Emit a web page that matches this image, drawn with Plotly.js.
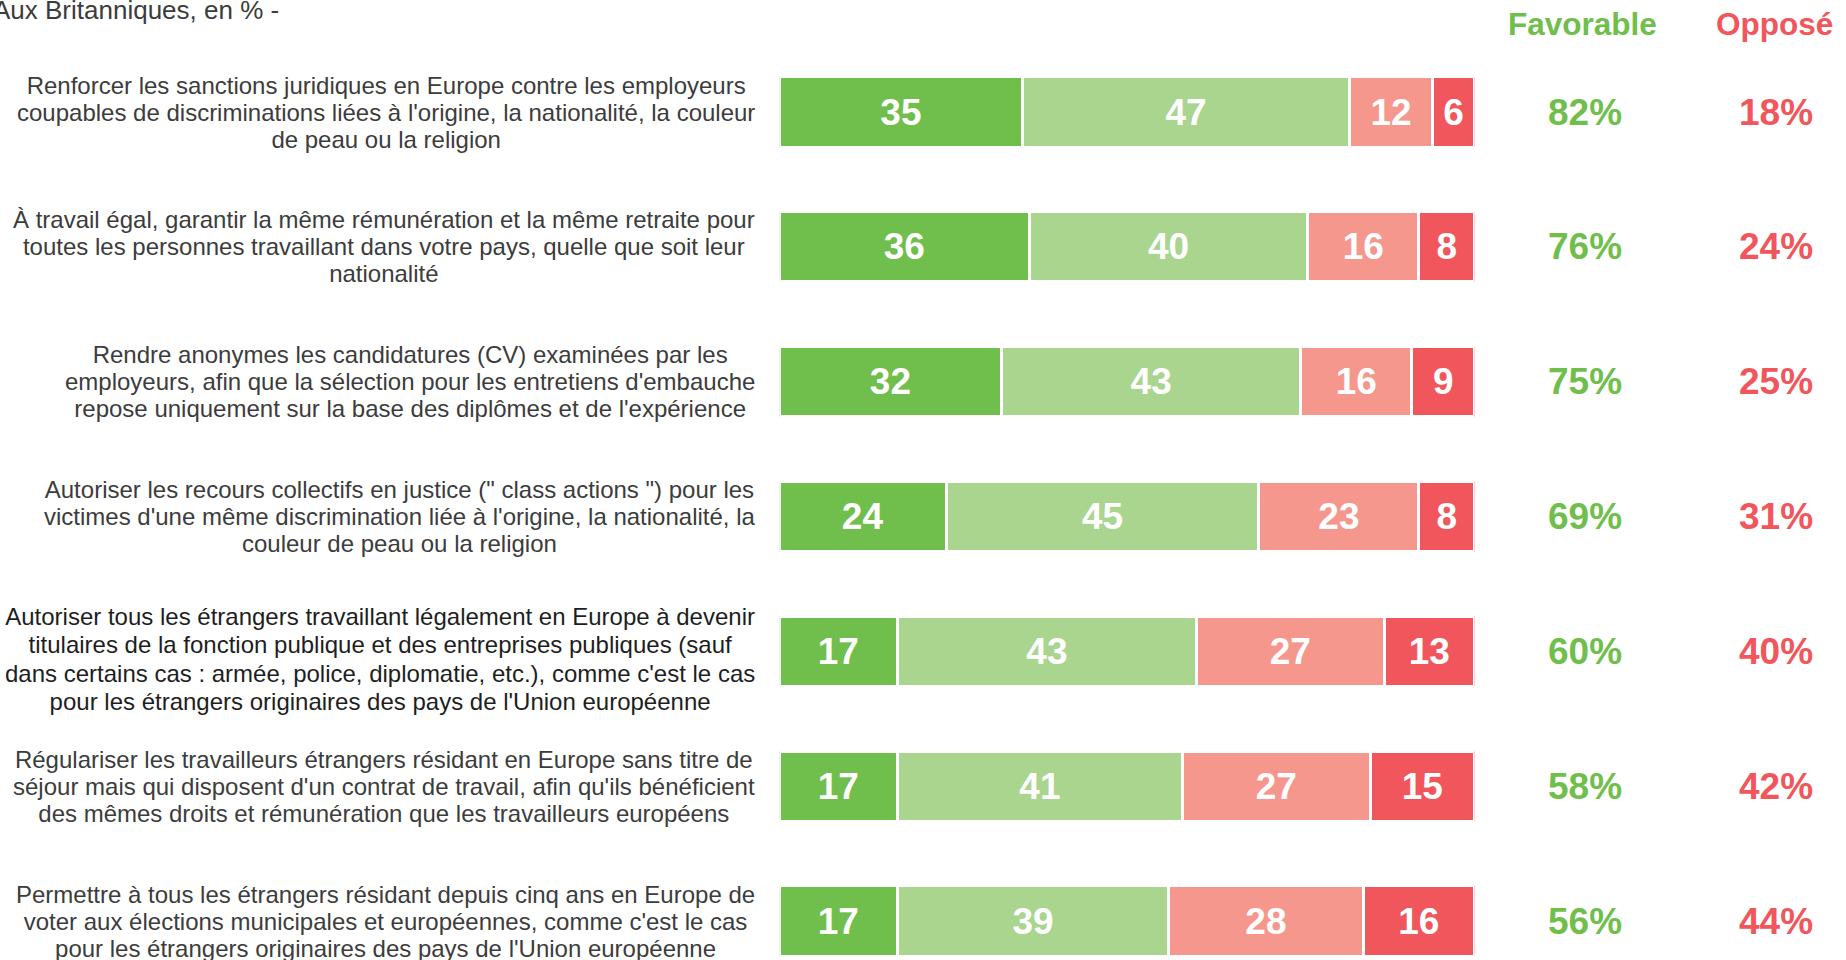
<!DOCTYPE html>
<html>
<head>
<meta charset="utf-8">
<script src="https://cdn.plot.ly/plotly-3.0.1.min.js"></script>
<style>html,body{margin:0;padding:0;background:#fff;}#chart{width:1846px;height:960px;}</style>
</head>
<body>
<div id="chart"></div>
<script>
const questions = [
  "Renforcer les sanctions juridiques en Europe contre les employeurs<br>coupables de discriminations liées à l'origine, la nationalité, la couleur<br>de peau ou la religion",
  "À travail égal, garantir la même rémunération et la même retraite pour<br>toutes les personnes travaillant dans votre pays, quelle que soit leur<br>nationalité",
  "Rendre anonymes les candidatures (CV) examinées par les<br>employeurs, afin que la sélection pour les entretiens d'embauche<br>repose uniquement sur la base des diplômes et de l'expérience",
  "Autoriser les recours collectifs en justice (\" class actions \") pour les<br>victimes d'une même discrimination liée à l'origine, la nationalité, la<br>couleur de peau ou la religion",
  "Autoriser tous les étrangers travaillant légalement en Europe à devenir<br>titulaires de la fonction publique et des entreprises publiques (sauf<br>dans certains cas : armée, police, diplomatie, etc.), comme c'est le cas<br>pour les étrangers originaires des pays de l'Union européenne",
  "Régulariser les travailleurs étrangers résidant en Europe sans titre de<br>séjour mais qui disposent d'un contrat de travail, afin qu'ils bénéficient<br>des mêmes droits et rémunération que les travailleurs européens",
  "Permettre à tous les étrangers résidant depuis cinq ans en Europe de<br>voter aux élections municipales et européennes, comme c'est le cas<br>pour les étrangers originaires des pays de l'Union européenne"
];
const tresFavorable   = [35, 36, 32, 24, 17, 17, 17];
const plutotFavorable = [47, 40, 43, 45, 43, 41, 39];
const plutotOppose    = [12, 16, 16, 23, 27, 27, 28];
const tresOppose      = [6, 8, 9, 8, 13, 15, 16];
const totalFavorable  = [82, 76, 75, 69, 60, 58, 56];
const totalOppose     = [18, 24, 25, 31, 40, 42, 44];
const title = "Aux Britanniques, en % -";
const headerFav = "Favorable";
const headerOpp = "Opposé";

const W = 1846, H = 960;
const FONT = "Liberation Sans, Arial, sans-serif";
const cGreen = "#70BE4B", cLightGreen = "#A9D58F", cSalmon = "#F5978D", cRed = "#F0565B";
const cats = questions.map((q, i) => "q" + i);

function barTrace(vals, color) {
  return {
    type: "bar", orientation: "h", x: vals, y: cats,
    marker: {color: color, line: {color: "#fff", width: 3}},
    width: 0.52,
    text: vals.map(String), textposition: "inside", insidetextanchor: "middle",
    constraintext: "none",
    textfont: {family: FONT, size: 37, color: "#fff", weight: "bold"},
    hoverinfo: "skip", showlegend: false, cliponaxis: false
  };
}
const data = [
  barTrace(tresFavorable, cGreen),
  barTrace(plutotFavorable, cLightGreen),
  barTrace(plutotOppose, cSalmon),
  barTrace(tresOppose, cRed)
];

function bigLines(s, px) {
  return s.split("<br>").map(l => '<span style="font-size:' + px + 'px">' + l + '</span>').join("<br>");
}

const annotations = [];
cats.forEach((c, i) => {
  const four = questions[i].split("<br>").length === 4;
  annotations.push({xref: "paper", yref: "y", x: 757 / W, y: c, xanchor: "right", yanchor: "middle",
    text: bigLines(questions[i], 24), align: "center", showarrow: false,
    yshift: four ? -8 : 0,
    font: {family: FONT, size: four ? 21.8 : 20.8, color: four ? "#1e1e1e" : "#3c3c3c"}});
  annotations.push({xref: "paper", yref: "y", x: 1585 / W, y: c, xanchor: "center", yanchor: "middle",
    text: "<b>" + totalFavorable[i] + "%</b>", showarrow: false,
    font: {family: FONT, size: 37, color: cGreen}});
  annotations.push({xref: "paper", yref: "y", x: 1776 / W, y: c, xanchor: "center", yanchor: "middle",
    text: "<b>" + totalOppose[i] + "%</b>", showarrow: false,
    font: {family: FONT, size: 37, color: cRed}});
});
annotations.push({xref: "paper", yref: "paper", x: 1582 / W, y: 1 - 23.5 / H, xanchor: "center", yanchor: "middle",
  text: "<b>" + headerFav + "</b>", showarrow: false, font: {family: FONT, size: 31.5, color: cGreen}});
annotations.push({xref: "paper", yref: "paper", x: 1774 / W, y: 1 - 23.5 / H, xanchor: "center", yanchor: "middle",
  text: "<b>" + headerOpp + "</b>", showarrow: false, font: {family: FONT, size: 31.5, color: cRed}});
annotations.push({xref: "paper", yref: "paper", x: 281 / W, y: 1 - 10 / H, xanchor: "right", yanchor: "middle",
  text: title, showarrow: false, font: {family: FONT, size: 26, color: "#3c3c3c"}});

const layout = {
  width: W, height: H,
  margin: {l: 0, r: 0, t: 0, b: 0, pad: 0},
  paper_bgcolor: "#fff", plot_bgcolor: "#fff",
  barmode: "stack", bargap: 0.48,
  showlegend: false, hovermode: false,
  xaxis: {domain: [779.2 / W, 1474.5 / W], range: [0, 100], visible: false, fixedrange: true},
  yaxis: {type: "category", categoryarray: cats, range: [6.289, -0.831], visible: false, fixedrange: true},
  annotations: annotations
};
Plotly.newPlot("chart", data, layout, {displayModeBar: false, staticPlot: true});
</script>
</body>
</html>
